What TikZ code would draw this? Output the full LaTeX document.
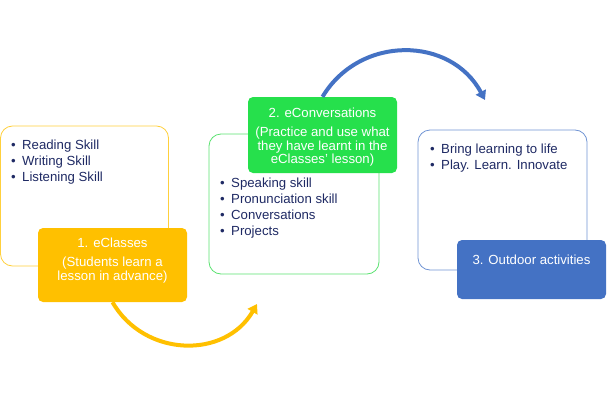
\documentclass[tikz,border=0pt]{standalone}
\usepackage{fontspec}
\setmainfont{Liberation Sans}
\usetikzlibrary{positioning, arrows.meta}

\definecolor{classyellow}{RGB}{255,192,0}
\definecolor{convgreen}{RGB}{38,224,76}
\definecolor{outblue}{RGB}{68,114,196}
\definecolor{lineyellow}{RGB}{255,208,60}
\definecolor{linegreen}{RGB}{90,226,112}
\definecolor{lineblue}{RGB}{112,148,212}
\definecolor{listnavy}{RGB}{31,42,100}

\tikzset{
  panel/.style={draw, rounded corners=12pt, line width=0.8pt, fill=white,
    minimum width=170pt, minimum height=140pt, inner sep=0pt},
  stage/.style={rounded corners=5pt, minimum width=149pt, inner sep=0pt},
  stagetext/.style={anchor=north, align=center, text=white, inner sep=0pt,
    font=\fontsize{13.2}{13.5}\selectfont},
  skills/.style={anchor=north west, align=left, text=listnavy, inner sep=0pt},
  flow/.style={line width=4pt, -{Triangle[length=9pt,width=11pt]}}
}
\newcommand{\itm}[1]{\makebox[11pt][l]{\textbullet}#1}

\begin{document}
\begin{tikzpicture}[x=1pt, y=1pt, font=\fontsize{13.2}{16}\selectfont]
  \useasboundingbox (0,0) rectangle (607,400);
  % outline panels
  \node[panel, draw=lineyellow, minimum width=168pt] (p1) at (84.5,204) {};
  \node[panel, draw=linegreen] (p2) at (294,196) {};
  \node[panel, draw=lineblue, minimum width=169pt] (p3) at (502.5,200) {};
  % bullet lists
  \node[skills] (l1) at (11,260) {\itm{Reading Skill}\\ \itm{Writing Skill}\\ \itm{Listening Skill}};
  \node[skills] (l2) at (220,222) {\itm{Speaking skill}\\ \itm{Pronunciation skill}\\ \itm{Conversations}\\ \itm{Projects}};
  \node[skills] (l3) at (430,256) {\itm{Bring learning to life}\\ \itm{Play. Learn. Innovate}};
  % filled stage boxes
  \node[stage, fill=classyellow, minimum height=74pt] (s1) at (112.5,135) {};
  \node[stage, fill=convgreen, minimum height=76pt] (s2) at (322.5,265) {};
  \node[stage, fill=outblue, minimum height=59pt] (s3) at (531.5,130.5) {};
  \node[stagetext, below=9.5pt of s1.north] (t1) {1. eClasses\\[6pt] (Students learn a\\ lesson in advance)};
  \node[stagetext, below=10.5pt of s2.north] (t2) {2. eConversations\\[6pt] (Practice and use what\\ they have learnt in the\\ eClasses' lesson)};
  \node[stagetext, below=14.5pt of s3.north] (t3) {3. Outdoor activities};
  % arrows
  \coordinate (y1) at (257,96);
  \coordinate (b1) at (485,300);
  \draw[flow, classyellow] (s1.south) to[out=-60, in=-120, looseness=1.13] (y1);
  \draw[flow, outblue] (s2.north) to[out=59, in=118, looseness=1.14] (b1);
\end{tikzpicture}
\end{document}
